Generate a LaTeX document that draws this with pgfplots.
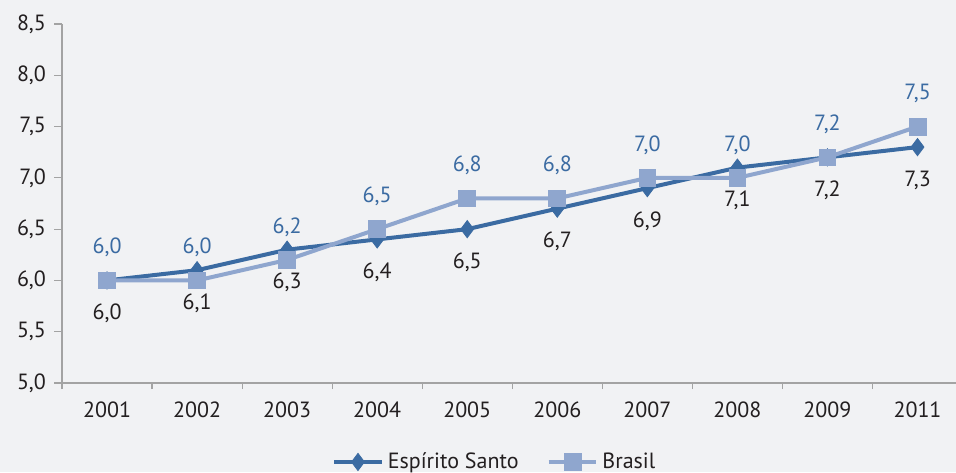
\documentclass[border=0pt]{standalone}
\usepackage{pgfplots}
\pgfplotsset{compat=1.18}
\usepackage{fontspec}
\setmainfont{PT Sans}
\definecolor{bg}{HTML}{F1F2F4}
\definecolor{es}{HTML}{3B6BA2}
\definecolor{br}{HTML}{8FA6CE}
\definecolor{ax}{HTML}{A3A3A3}
\definecolor{txt}{HTML}{231F20}
\begin{document}
\begin{tikzpicture}
\fill[bg] (0,0) rectangle (478pt,236pt);
\begin{axis}[
  at={(31pt,44.5pt)}, anchor=south west,
  scale only axis, width=448pt, height=179.5pt,
  xmin=-0.5, xmax=9.45, ymin=5, ymax=8.5,
  axis x line*=bottom, axis y line*=left,
  axis line style={ax, line width=0.6pt},
  every axis plot/.append style={line width=2pt},
  xtick={0,...,9},
  xticklabels={2001,2002,2003,2004,2005,2006,2007,2008,2009,2011},
  major x tick style={draw=none},
  minor xtick={-0.5,0.5,...,8.5},
  minor tick length=3pt,
  ytick={5,5.5,...,8.5},
  major tick length=4pt,
  tick align=outside,
  tick style={ax, line width=0.6pt},
  /pgf/number format/use comma,
  /pgf/number format/fixed,
  /pgf/number format/fixed zerofill,
  /pgf/number format/precision=1,
  /pgf/number format/assume math mode=true,
  xticklabel style={yshift=-2pt},
  yticklabel style={xshift=-0.5pt},
  tick label style={font=\fontsize{11}{13}\selectfont, text=txt},
  nodes near coords,
  nodes near coords style={font=\fontsize{11}{13}\selectfont, anchor=center},
  legend style={at={(0.484,-0.22)}, anchor=center, draw=none, fill=none,
    legend columns=2, font=\fontsize{11}{13}\selectfont, text=txt,
    /tikz/every even column/.append style={column sep=12pt}},
  legend image code/.code={
    \draw[mark repeat=2,mark phase=2] plot coordinates {(0cm,0cm) (0.42cm,0cm) (0.84cm,0cm)};},
  clip=false,
]
\addplot[es, mark=diamond*, mark size=4.3pt, mark options={solid, fill=es, line width=0.4pt},
  every node near coord/.append style={text=txt, yshift=-16.5pt}]
  coordinates {(0,6.0) (1,6.1) (2,6.3) (3,6.4) (4,6.5) (5,6.7) (6,6.9) (7,7.1) (8,7.2) (9,7.3)};
\addlegendentry{Espírito Santo}
\addplot[br, mark=square*, mark size=4.2pt, mark options={solid, fill=br, line width=0.4pt},
  every node near coord/.append style={text=es, yshift=16.5pt}]
  coordinates {(0,6.0) (1,6.0) (2,6.2) (3,6.5) (4,6.8) (5,6.8) (6,7.0) (7,7.0) (8,7.2) (9,7.5)};
\addlegendentry{Brasil}
\end{axis}
\pgfresetboundingbox
\path (0,0) rectangle (478pt,236pt);
\end{tikzpicture}
\end{document}
